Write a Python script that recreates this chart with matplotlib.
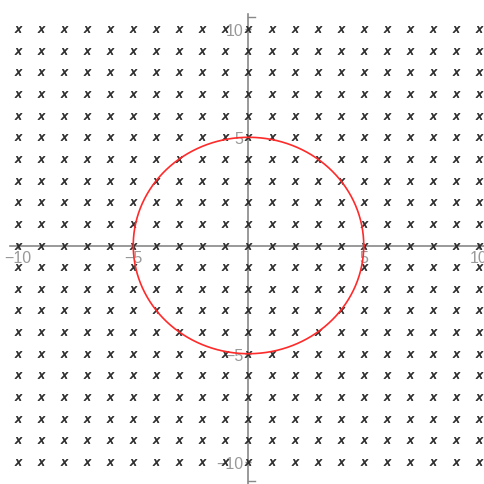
import numpy as np
import matplotlib.pyplot as plt

# grid of sample points (integer lattice) and the circle radius
grid_x = list(range(-10, 11))
grid_y = list(range(-10, 11))
radius = 5
xticks = [-10, -5, 5, 10]
yticks = [-10, -5, 5, 10]

gx, gy = np.meshgrid(grid_x, grid_y)

fig = plt.figure(figsize=(4.85, 4.85), dpi=100)
ax = fig.add_axes([0, 0, 1, 1])
ax.set_xlim(-10.78, 10.26)
ax.set_ylim(-11.02, 11.39)

axis_col = '#888888'
for s in ['top', 'right']:
    ax.spines[s].set_visible(False)
ax.spines['left'].set_position(('data', 0))
ax.spines['bottom'].set_position(('data', 0))
ax.spines['left'].set_color(axis_col)
ax.spines['bottom'].set_color(axis_col)
ax.spines['left'].set_bounds(-11.02, 10.7)
ax.spines['bottom'].set_bounds(-10.35, 10.26)
ax.spines['left'].set_linewidth(1.2)
ax.spines['bottom'].set_linewidth(1.2)

ax.set_xticks(xticks)
ax.set_yticks(yticks)
ax.set_xticklabels(['\u221210', '\u22125', '5', '10'])
ax.set_yticklabels(['\u221210', '\u22125', '5', '10'])
ax.tick_params(axis='both', direction='inout', length=5, width=1,
               color=axis_col, labelcolor='#999999', labelsize=11.5, pad=1)
for lab in ax.get_xticklabels() + ax.get_yticklabels():
    lab.set_family('Liberation Sans')

# end marks of vertical axis
ax.plot([0, 0.3], [10.55, 10.55], color=axis_col, lw=1)
ax.plot([0, 0.3], [-10.9, -10.9], color=axis_col, lw=1)

ax.scatter(gx.ravel(), gy.ravel(), marker='$x$', s=26, color='#2a2a2a',
           linewidths=0.5, zorder=3)

t = np.linspace(0, 2 * np.pi, 400)
ax.plot(radius * np.cos(t), radius * np.sin(t), color='#ff2a2a', lw=1.2, zorder=4)

fig.savefig('out.png', dpi=100)
